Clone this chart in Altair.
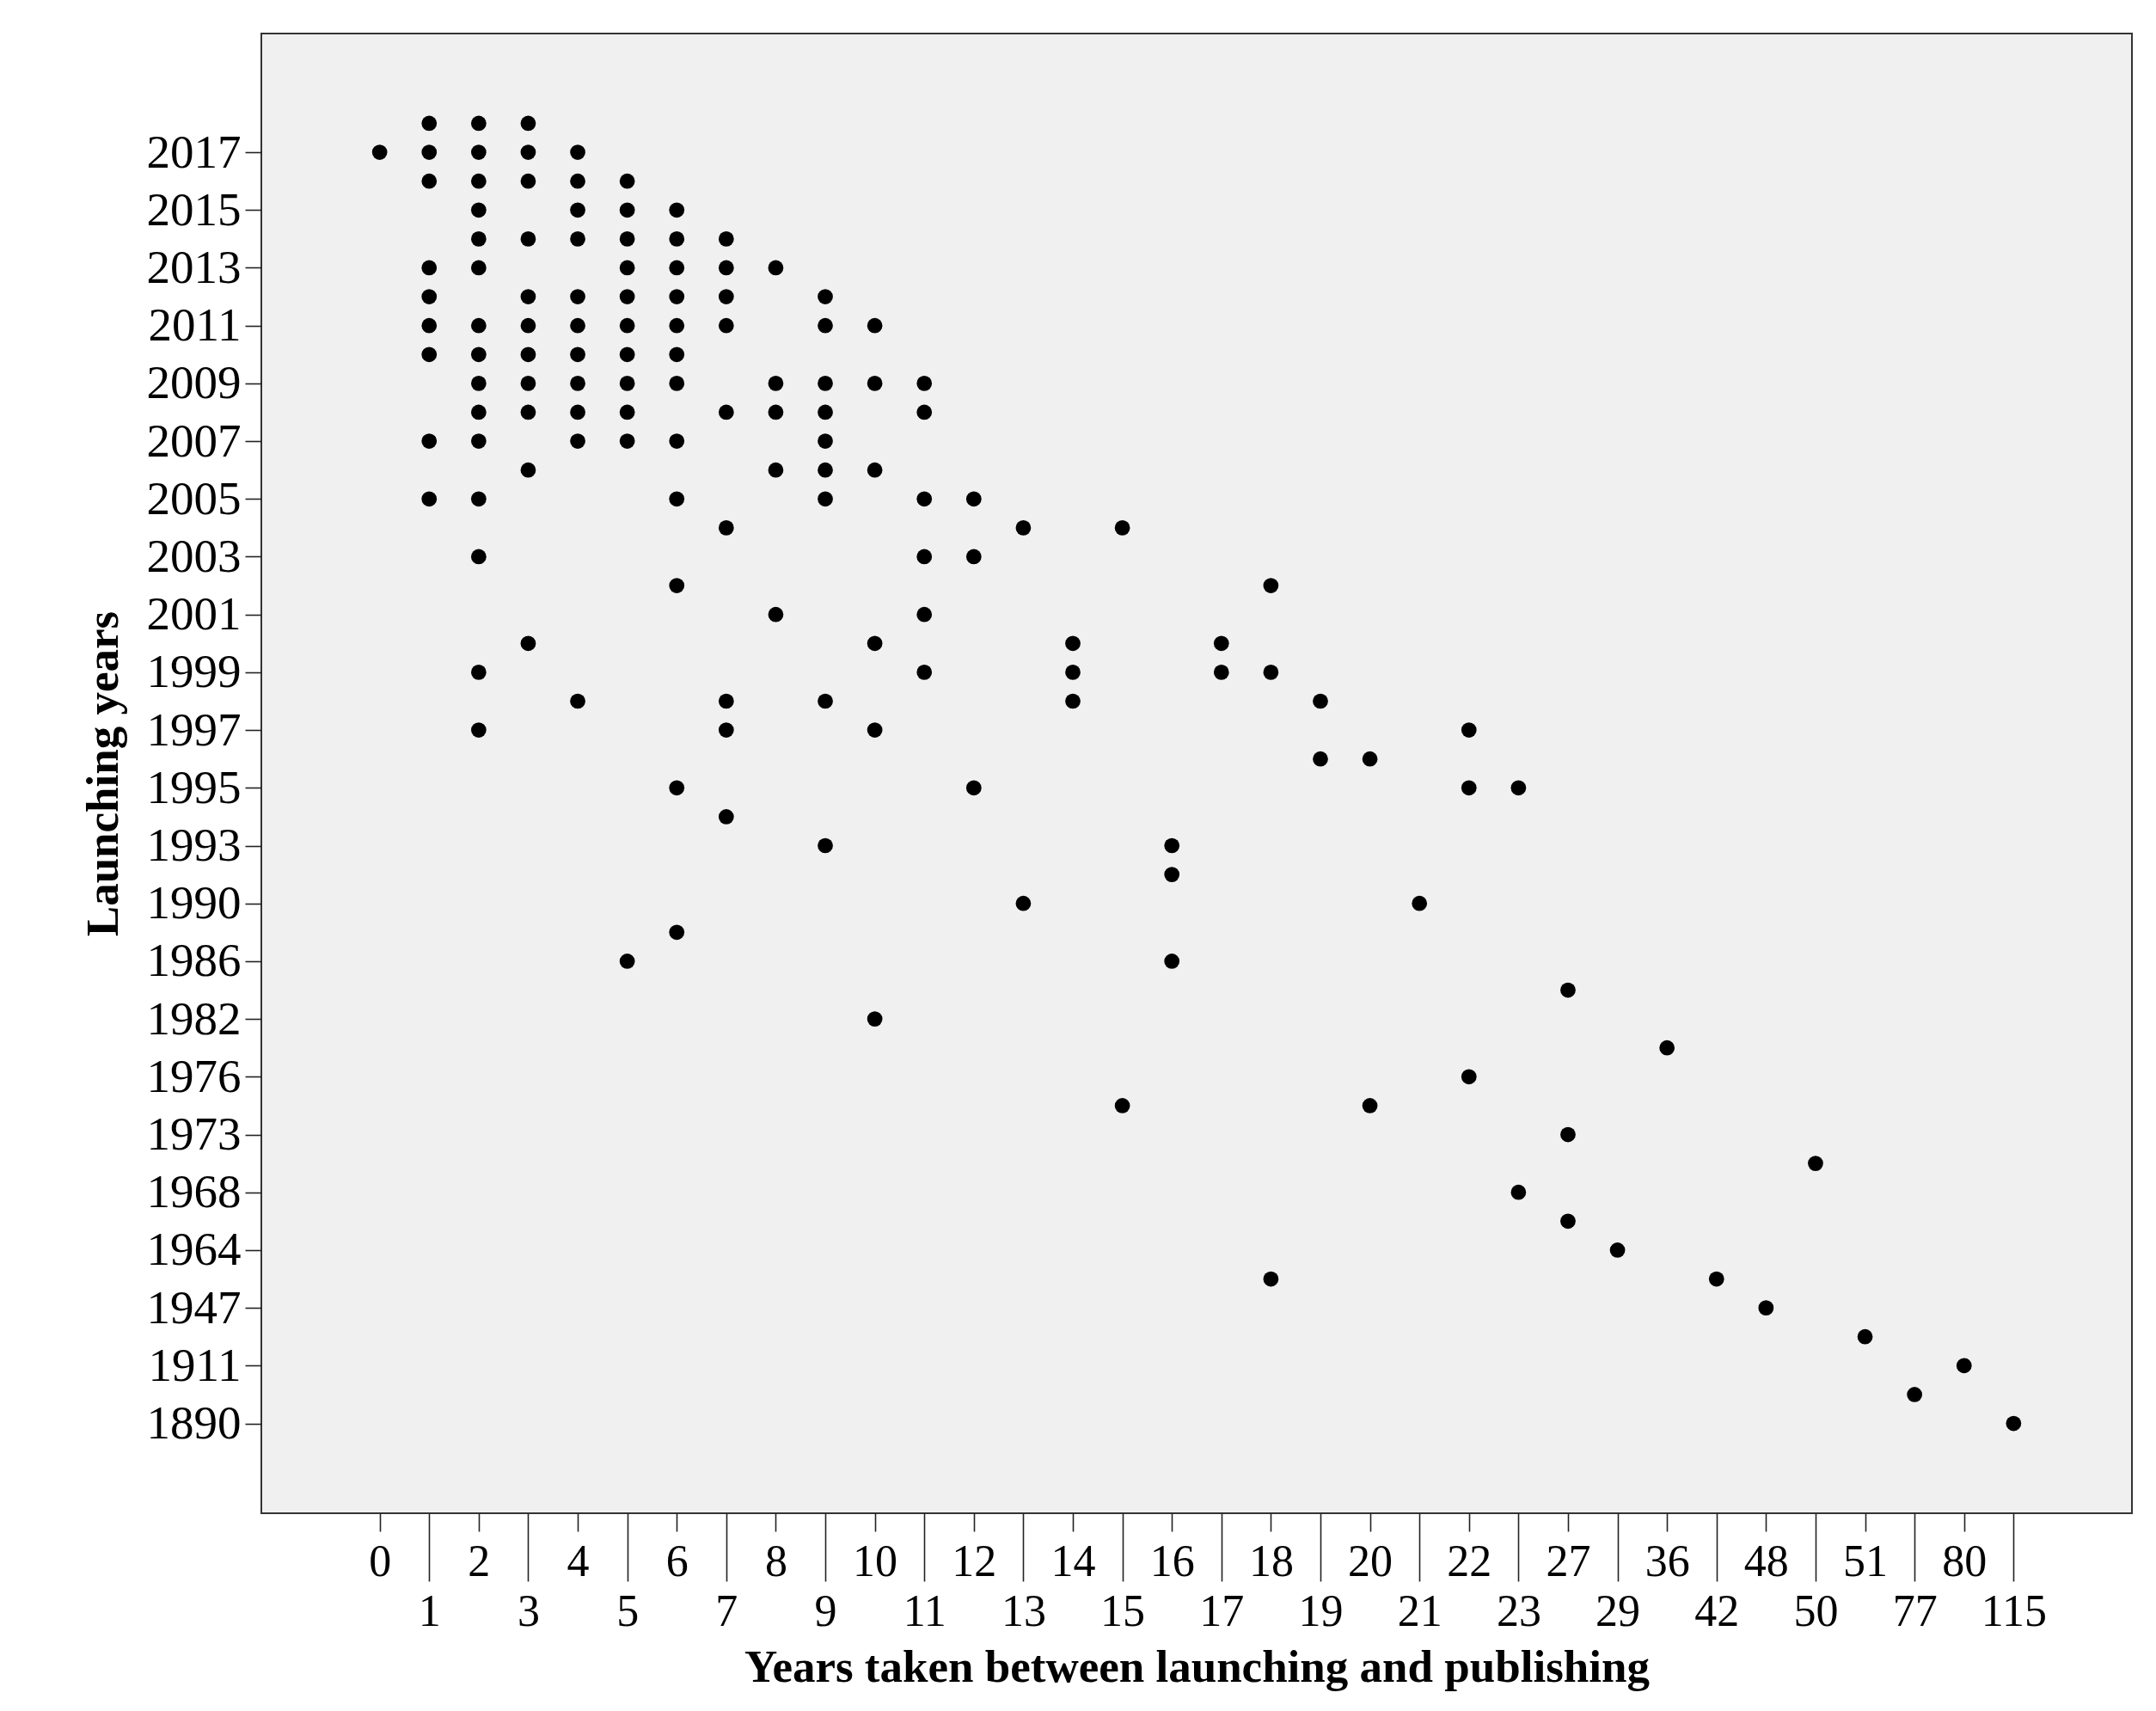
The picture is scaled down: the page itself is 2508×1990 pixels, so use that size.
import altair as alt
import pandas as pd

# Category order on the x axis (years taken between launching and publishing)
x_categories = ["0", "1", "2", "3", "4", "5", "6", "7", "8", "9", "10", "11",
                "12", "13", "14", "15", "16", "17", "18", "19", "20", "21", "22",
                "23", "27", "29", "36", "42", "48", "50", "51", "77", "80", "115"]
x_top_labels = ["0", "2", "4", "6", "8", "10", "12", "14", "16", "18", "20",
                "22", "27", "36", "48", "51", "80"]
x_bottom_labels = ["1", "3", "5", "7", "9", "11", "13", "15", "17", "19", "21",
                   "23", "29", "42", "50", "77", "115"]

# Category order on the y axis (launching years), top to bottom
y_categories = ["2018", "2017", "2016", "2015", "2014", "2013", "2012", "2011",
                "2010", "2009", "2008", "2007", "2006", "2005", "2004", "2003",
                "2002", "2001", "2000", "1999", "1998", "1997", "1996", "1995",
                "1994", "1993", "1992", "1990", "1988", "1986", "1984", "1982",
                "1980", "1976", "1975", "1973", "1970", "1968", "1966", "1964",
                "1950", "1947", "1920", "1911", "1900", "1890"]
y_labels = ["2017", "2015", "2013", "2011", "2009", "2007", "2005", "2003",
            "2001", "1999", "1997", "1995", "1993", "1990", "1986", "1982",
            "1976", "1973", "1968", "1964", "1947", "1911", "1890"]

# Observed points: launching year -> years taken
row_years = ["2018", "2017", "2016", "2015", "2014", "2013", "2012", "2011",
             "2010", "2009", "2008", "2007", "2006", "2005", "2004", "2003",
             "2002", "2001", "2000", "1999", "1998", "1997", "1996", "1995",
             "1994", "1993", "1992", "1990", "1988", "1986", "1984", "1982",
             "1980", "1976", "1975", "1973", "1970", "1968", "1966", "1964",
             "1950", "1947", "1920", "1911", "1900", "1890"]
row_gaps = [
    [1, 2, 3],
    [0, 1, 2, 3, 4],
    [1, 2, 3, 4, 5],
    [2, 4, 5, 6],
    [2, 3, 4, 5, 6, 7],
    [1, 2, 5, 6, 7, 8],
    [1, 3, 4, 5, 6, 7, 9],
    [1, 2, 3, 4, 5, 6, 7, 9, 10],
    [1, 2, 3, 4, 5, 6],
    [2, 3, 4, 5, 6, 8, 9, 10, 11],
    [2, 3, 4, 5, 7, 8, 9, 11],
    [1, 2, 4, 5, 6, 9],
    [3, 8, 9, 10],
    [1, 2, 6, 9, 11, 12],
    [7, 13, 15],
    [2, 11, 12],
    [6, 18],
    [8, 11],
    [3, 10, 14, 17],
    [2, 11, 14, 17, 18],
    [4, 7, 9, 14, 19],
    [2, 7, 10, 22],
    [19, 20],
    [6, 12, 22, 23],
    [7],
    [9, 16],
    [16],
    [13, 21],
    [6],
    [5, 16],
    [27],
    [10],
    [36],
    [22],
    [15, 20],
    [27],
    [50],
    [23],
    [27],
    [29],
    [18, 42],
    [48],
    [51],
    [80],
    [77],
    [115],
]

records = []
for yr, gaps in zip(row_years, row_gaps):
    for g in gaps:
        records.append({"year": yr, "gap": str(g)})
df = pd.DataFrame(records)

FONT = "Liberation Serif"
W, H = 2176, 1721

# empty slots at both ends of each axis (the SPSS frame leaves wide margins)
x_domain = ["pad_x1", "pad_x2"] + x_categories + ["pad_x3", "pad_x4"]
y_domain = ["pad_y1", "pad_y2", "pad_y3"] + y_categories + ["pad_y4", "pad_y5", "pad_y6"]

x_scale = alt.Scale(domain=x_domain, type="point", padding=0.39)
y_scale = alt.Scale(domain=y_domain, type="point", padding=0.11)

common_x_axis = dict(orient="bottom", domain=False, grid=False, labelAngle=0,
                     labelFont=FONT, labelFontSize=52, labelColor="black",
                     labelBaseline="top", labelOverlap=False, labelFlush=False,
                     tickColor="#222222", tickWidth=1.6)

points = alt.Chart(df).mark_circle(size=315, color="black", opacity=1).encode(
    x=alt.X("gap:O", scale=x_scale,
            axis=alt.Axis(values=x_top_labels, tickSize=21, labelPadding=10,
                          title=None, **common_x_axis)),
    y=alt.Y("year:O", scale=y_scale,
            axis=alt.Axis(values=y_labels, tickSize=19, labelPadding=5,
                          orient="left", domain=False, grid=False,
                          labelFont=FONT, labelFontSize=55, labelColor="black",
                          labelAlign="right", labelBaseline="middle",
                          labelOverlap=False, tickColor="#222222", tickWidth=1.6,
                          title="Launching years", titleFont=FONT,
                          titleFontSize=53, titleFontWeight="bold",
                          titleColor="black", titleAngle=270, titleX=-168,
                          titleY=H / 2, titleAlign="center",
                          titleBaseline="alphabetic")),
)

points_bottom = alt.Chart(df).mark_circle(size=315, color="black", opacity=0).encode(
    x=alt.X("gap:O", scale=x_scale,
            axis=alt.Axis(values=x_bottom_labels, tickSize=79, labelPadding=10,
                          title="Years taken between launching and publishing",
                          titleFont=FONT, titleFontSize=53, titleFontWeight="bold",
                          titleColor="black", titleX=W / 2, titleY=195,
                          titleAlign="center", titleBaseline="alphabetic",
                          **common_x_axis)),
    y=alt.Y("year:O", scale=y_scale, axis=None),
)

chart = alt.layer(points, points_bottom).resolve_axis(
    x="independent", y="independent"
).properties(
    width=W, height=H,
    autosize=alt.AutoSizeParams(type="none"),
    padding={"left": 296, "top": 31, "right": 20, "bottom": 222},
    background="white",
).configure_view(fill="#F0F0F0", stroke="#333333", strokeWidth=2)

chart.save("out.html", embed_options={"renderer": "svg", "actions": False})
